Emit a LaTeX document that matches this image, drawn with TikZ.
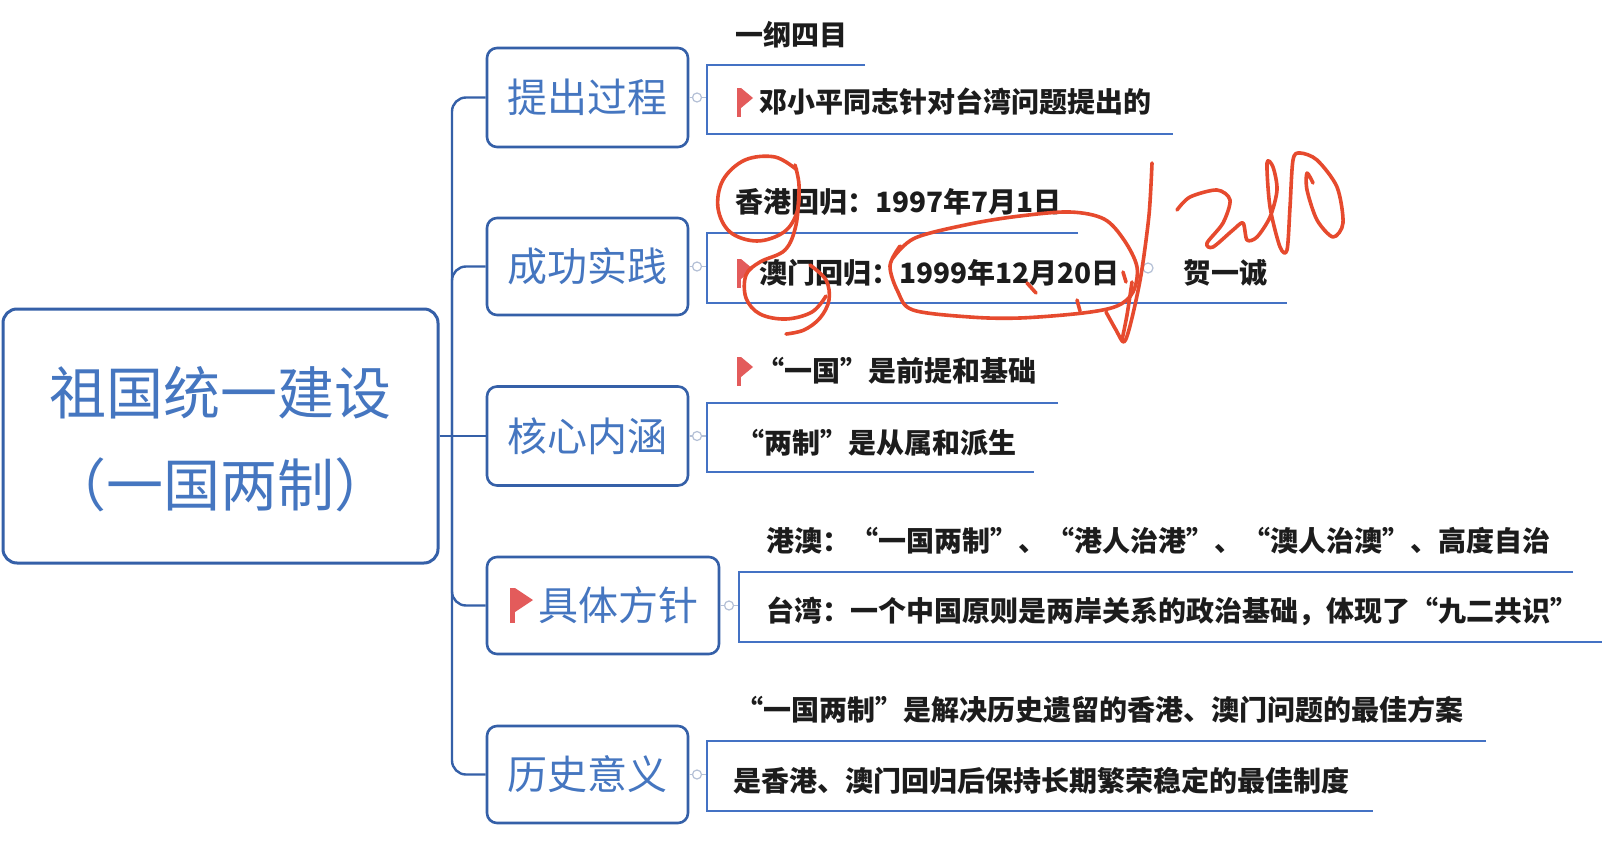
\documentclass[tikz,border=0pt]{standalone}
\usepackage{fontspec}
\usepackage{graphicx}
\newfontfamily\cjk{Noto Sans CJK SC}
\newfontfamily\cjkq{Noto Sans CJK SC}[RawFeature=+fwid]
\definecolor{boxblue}{HTML}{3560A8}
\definecolor{textblue}{HTML}{4576C0}
\definecolor{lineblue}{HTML}{4472C4}
\definecolor{flagred}{HTML}{E35B5B}
\definecolor{annot}{HTML}{E64A2E}
\definecolor{foldgray}{HTML}{B4C0D6}
\definecolor{inkblack}{HTML}{1C1C1C}
\tikzset{
  rootbox/.style={draw=boxblue, line width=3pt, rounded corners=14pt, fill=white,
    text=textblue, align=center, inner sep=0pt,
    font=\cjk\fontsize{57}{92}\selectfont},
  brbox/.style={draw=boxblue, line width=2.6pt, rounded corners=10pt, fill=white,
    text=textblue, inner sep=0pt, text height=33pt, text depth=3pt,
    font=\cjk\fontsize{40}{40}\selectfont},
  trunk/.style={draw=boxblue, line width=2.4pt, rounded corners=14pt},
  fold/.style={draw=foldgray, line width=1.2pt},
  uline/.style={draw=lineblue, line width=2.6pt},
  childtext/.style={anchor=west, inner sep=0pt, text=inkblack,
    text height=23.2pt, text depth=2pt,
    font=\cjk\bfseries\fontsize{28}{28}\selectfont},
  childq/.style={childtext, font=\cjkq\bfseries\fontsize{28}{28}\selectfont},
  scribble/.style={draw=annot, line width=3.6pt, line cap=round, line join=round}
}
\newcommand\redflag[2]{%
  \fill[flagred] (#1,#2) rectangle ++(4,29);
  \fill[flagred] (#1+4,#2) -- ++(12,10) -- ++(-12,10) -- cycle;}
\begin{document}
\begin{tikzpicture}[x=1pt,y=-1pt]
\useasboundingbox (0,0) rectangle (1606,848);
\fill[white] (0,0) rectangle (1606,848);

% main topic and branches
\coordinate (hub) at (452,436);
\node[rootbox, minimum width=435pt, minimum height=254pt] (root) at (220.5,436) {\begin{tabular}{@{}c@{}}\rule{0pt}{77pt}祖国统一建设\\（一国两制）\end{tabular}};
\node[brbox, minimum width=201pt, minimum height=99pt] (b1) at (587.5,97.5) {提出过程};
\node[brbox, minimum width=201pt, minimum height=97pt] (b2) at (587.5,266.5) {成功实践};
\node[brbox, minimum width=201pt, minimum height=99pt] (b3) at (587.5,436) {核心内涵};
\node[brbox, minimum width=232pt, minimum height=97pt] (b4) at (603,605.5) {\hspace*{30pt}具体方针};
\node[brbox, minimum width=201pt, minimum height=97pt] (b5) at (587.5,774.5) {历史意义};
\fill[flagred] (515,588) -- (533,600) -- (515,612) -- cycle;
\fill[flagred] (510,588) rectangle (515,623);

\draw[trunk] (root.east) -- (b3.west);
\draw[trunk] (hub) |- (b1.west);
\draw[trunk] (hub) |- (b2.west);
\draw[trunk] (hub) |- (b4.west);
\draw[trunk] (hub) |- (b5.west);

% fold connectors
\coordinate (g1) at (707,97.5);
\coordinate (g2) at (707,266.5);
\coordinate (g3) at (707,436);
\coordinate (g4) at (739,605.5);
\coordinate (g5) at (707,774.5);
\draw[fold] (b1.east) -- (g1);
\draw[fold] (b2.east) -- (g2);
\draw[fold] (b3.east) -- (g3);
\draw[fold] (b4.east) -- (g4);
\draw[fold] (b5.east) -- (g5);
\foreach \p in {(697,97.5),(697,266.5),(697,436),(729,605.5),(697,774.5)}
  \draw[fold, fill=white] \p circle (4.5);
\draw[fold, fill=white] (1148,268) circle (5);

% child groups
\draw[uline] (865,65) -- (707,65) -- (707,134) -- (1173,134);
\draw[uline] (1078,233) -- (707,233) -- (707,303) -- (1287,303);
\draw[uline] (1058,403) -- (707,403) -- (707,472) -- (1034,472);
\draw[uline] (1573,572) -- (739,572) -- (739,642) -- (1602,642);
\draw[uline] (1486,741) -- (707,741) -- (707,811) -- (1373,811);

\node[childtext] (t1a) at (735,35) {一纲四目};
\redflag{737}{88}
\node[childtext] (t1b) at (759,102) {邓小平同志针对台湾问题提出的};

\node[childtext] (t2a) at (735,202) {香港回归：1997年7月1日};
\redflag{737}{259}
\node[childtext] (t2b) at (759,273) {澳门回归：1999年12月20日};
\node[childtext] (t2c) at (1183,273) {贺一诚};

\redflag{737}{357}
\node[childq] (t3a) at (756,371) {“一国”是前提和基础};
\node[childq] (t3b) at (736,443) {“两制”是从属和派生};

\node[childq] (t4a) at (766,541) {港澳：“一国两制”、“港人治港”、“澳人治澳”、高度自治};
\node[childq] (t4b) at (766,611) {台湾：一个中国原则是两岸关系的政治基础，体现了“九二共识”};

\node[childq] (t5a) at (735,710) {“一国两制”是解决历史遗留的香港、澳门问题的最佳方案};
\node[childtext] (t5b) at (733,781) {是香港、澳门回归后保持长期繁荣稳定的最佳制度};

% handwritten annotations
\draw[scribble] plot[smooth, tension=0.6] coordinates {(797,170) (775,157) (745,160) (723,180) (718,208) (730,232) (757,241) (784,232) (797,212) (799,185) (795,165)};
\draw[scribble] plot[smooth, tension=0.6] coordinates {(799,190) (796,225) (785,250) (760,262) (746,275) (746,298) (760,314) (786,319) (812,312) (826,296)};
\draw[scribble] plot[smooth, tension=0.6] coordinates {(810,265) (826,280) (829,300) (820,318) (804,330) (786,334)};
\draw[scribble] plot[smooth, tension=0.55] coordinates {(893,258) (915,238) (970,224) (1020,216) (1070,212) (1104,219) (1124,240) (1137,267) (1133,292) (1117,306) (1083,313) (1020,318) (970,317) (913,310) (898,292) (890,266) (900,246)};
\draw[scribble] (1027,283) -- (1036,293);
\draw[scribble] (1077,300) -- (1080,311);
\draw[scribble] (1123,272) -- (1126,282);
\draw[scribble] plot[smooth, tension=0.5] coordinates {(1106,312) (1116,330) (1124,342) (1131,322) (1141,275) (1149,215) (1152,163)};
\draw[scribble] plot[smooth, tension=0.5] coordinates {(1132,282) (1127,315) (1122,340)};
\draw[scribble] plot[smooth, tension=0.5] coordinates {(1177,210) (1190,197) (1217,190) (1230,200) (1223,223) (1207,243) (1213,247) (1233,230) (1243,223) (1247,240) (1257,237) (1270,217) (1277,190) (1273,167) (1267,163) (1270,207) (1280,247) (1287,250) (1290,207) (1293,160) (1300,153) (1317,160) (1337,187) (1343,223) (1333,237) (1317,220) (1307,190) (1307,173) (1313,183)};
\end{tikzpicture}
\end{document}
